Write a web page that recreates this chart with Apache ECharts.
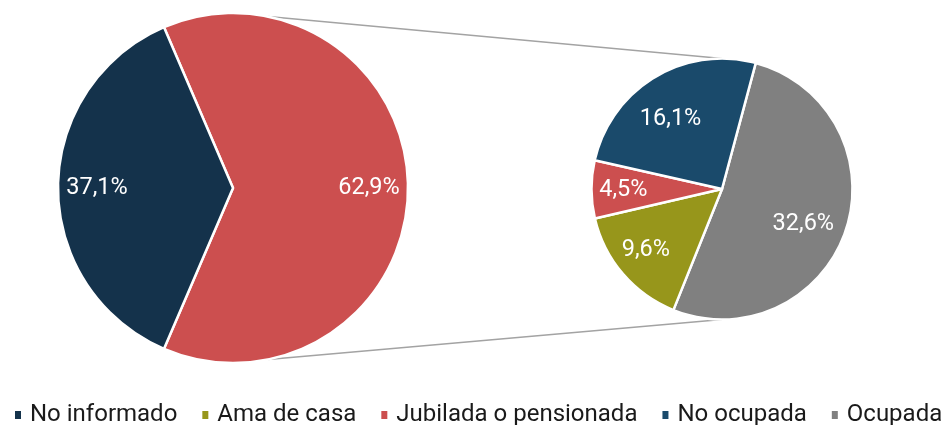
<!DOCTYPE html>
<html>
<head>
<meta charset="utf-8">
<script src="https://cdn.jsdelivr.net/npm/echarts@6/dist/echarts.min.js"></script>
<style>
html,body{margin:0;padding:0;background:#fff;}
#chart{width:947px;height:425px;}
</style>
</head>
<body>
<div id="chart"></div>
<script>
// Data
var mainNames = ['Otros', 'No informado'];
var mainValues = [62.9, 37.1];
var subNames = ['Ocupada', 'Ama de casa', 'Jubilada o pensionada', 'No ocupada'];
var subValues = [32.6, 9.6, 4.5, 16.1];
var legendNames = ['No informado', 'Ama de casa', 'Jubilada o pensionada', 'No ocupada', 'Ocupada'];

var colors = {
  'Otros': '#CC4F4F',
  'No informado': '#14324B',
  'Ocupada': '#808080',
  'Ama de casa': '#97961B',
  'Jubilada o pensionada': '#CC4F4F',
  'No ocupada': '#1A4A6B'
};
// small label nudges (style only)
var labelNudge = {
  'Ocupada': [-2, 7],
  'No ocupada': [-6, 5],
  'Ama de casa': [-2, -2],
  'Jubilada o pensionada': [-1, 1]
};

var FONT = 'Roboto';
var C1 = [233, 188], R1 = 175;
var C2 = [722, 189], R2 = 130.5;

function mk(names, values) {
  return names.map(function (n, i) {
    return { name: n, value: values[i], itemStyle: { color: colors[n] } };
  });
}
function fmt(p) { return p.value.toFixed(1).replace('.', ',') + '%'; }

var chart = echarts.init(document.getElementById('chart'), null, { renderer: 'canvas' });

var mainStart = (mainValues[0] / (mainValues[0] + mainValues[1])) * 180; // red centered at 0°
var subStart = 75;

function basePie(data, center, r, start) {
  return {
    type: 'pie', center: center, radius: [0, r], startAngle: start, clockwise: true,
    avoidLabelOverlap: false, silent: true, animation: false,
    label: { show: false }, labelLine: { show: false },
    itemStyle: { borderColor: '#ffffff', borderWidth: 2.5 },
    data: data
  };
}
function labelPie(data, center, r0, r, start, showSet, nudge) {
  var s = {
    type: 'pie', center: center, radius: [r0, r], startAngle: start, clockwise: true,
    avoidLabelOverlap: false, silent: true, animation: false, z: 5,
    label: { show: true, position: 'inside', formatter: fmt, color: '#ffffff', fontFamily: FONT, fontSize: 23.5 },
    labelLine: { show: false },
    itemStyle: { color: 'rgba(0,0,0,0)', borderWidth: 0 },
    emphasis: { disabled: true },
    data: data.map(function (d) {
      return { name: d.name, value: d.value, itemStyle: { color: 'rgba(0,0,0,0)' },
        label: { show: !showSet || showSet.indexOf(d.name) >= 0 } };
    })
  };
  if (nudge) {
    s.labelLayout = function (p) {
      var n = nudge[data[p.dataIndex].name] || [0, 0];
      return { dx: n[0], dy: n[1] };
    };
  }
  return s;
}

var mainData = mk(mainNames, mainValues);
var subData = mk(subNames, subValues);

function rad(a) { return a * Math.PI / 180; }
var aTop = 78.5, aBot = -78.5;
var lines = [
  [C1[0] + R1 * Math.cos(rad(aTop)), C1[1] - R1 * Math.sin(rad(aTop)), C2[0], C2[1] - R2],
  [C1[0] + R1 * Math.cos(rad(aBot)), C1[1] - R1 * Math.sin(rad(aBot)), C2[0], C2[1] + R2]
];

var option = {
  backgroundColor: '#ffffff',
  animation: false,
  legend: {
    data: legendNames,
    top: 403, left: 13, width: 934, padding: 0,
    icon: 'rect', itemWidth: 8, itemHeight: 10, itemGap: 23,
    textStyle: { fontFamily: FONT, fontSize: 24, color: '#1a1a1a', padding: [0, 0, 0, 3] },
    selectedMode: false
  },
  graphic: lines.map(function (l) {
    return { type: 'line', z: 1, shape: { x1: l[0], y1: l[1], x2: l[2], y2: l[3] },
      style: { stroke: '#A3A3A3', lineWidth: 1.6 } };
  }),
  series: [
    basePie(mainData, C1, R1, mainStart),
    basePie(subData, C2, R2, subStart),
    labelPie(mainData, C1, R1 * 0.52, R1, mainStart),
    labelPie(subData, C2, R2 * 0.3, R2, subStart, ['Ocupada', 'No ocupada'], labelNudge),
    labelPie(subData, C2, R2 * 0.45, R2, subStart, ['Ama de casa', 'Jubilada o pensionada'], labelNudge)
  ]
};
chart.setOption(option);
</script>
</body>
</html>
